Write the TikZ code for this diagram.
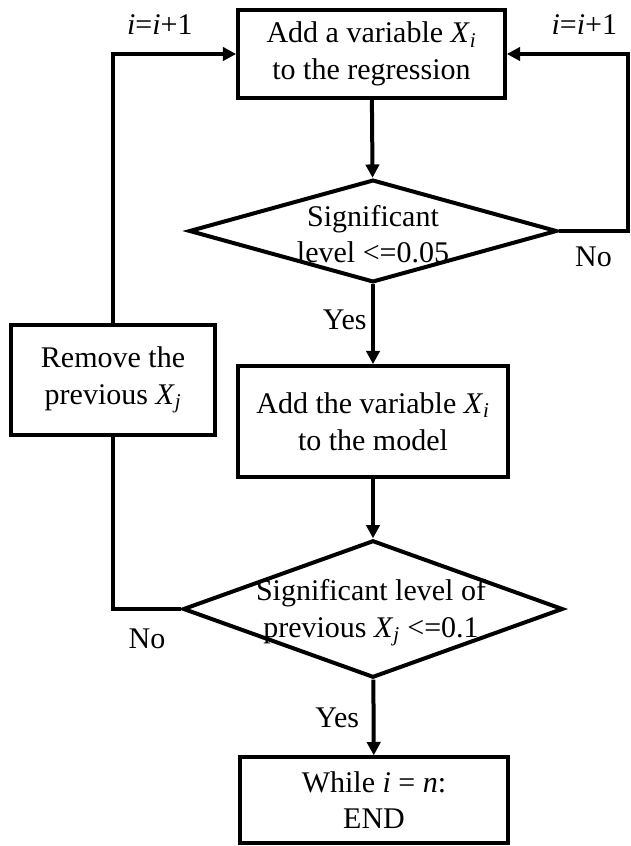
\documentclass[tikz,border=0pt]{standalone}
\usepackage{fontspec}
\setmainfont{Liberation Serif}
\usepackage{tikz}
\usetikzlibrary{positioning,arrows.meta,shapes.geometric}
\newcommand{\subvar}[2]{\textit{#1}\textsubscript{\textit{#2}}}

\begin{document}
\begin{tikzpicture}[x=0.75pt, y=-0.75pt,
    every node/.style={font=\fontsize{22.5}{27.5}\selectfont},
    box/.style={draw, line width=3pt, align=center, inner sep=0pt},
    decision/.style={draw, diamond, line width=3pt, inner sep=0pt},
    txt/.style={align=center, inner sep=0pt},
    flow/.style={line width=3pt, -{Triangle[length=10pt,width=10pt]}},
    link/.style={line width=3pt}]
  \useasboundingbox (0,0) rectangle (631,846);
  % main column
  \node[box, minimum width=200pt, minimum height=66pt] (add) at (371.5,54) {Add a variable \subvar{X}{i}\\to the regression};
  \node[decision, minimum width=276pt, minimum height=77pt] (sig1) at (373,231) {};
  \node[txt] (sig1txt) at (373,234) {Significant\\level <=0.05};
  \node[box, minimum width=202pt, minimum height=83pt] (addmod) at (373,421.5) {Add the variable \subvar{X}{i}\\to the model};
  \node[decision, minimum width=285pt, minimum height=103pt] (sig2) at (373,609) {};
  \node[txt] (sig2txt) at (371,613) {Significant level of\\previous \subvar{X}{j} <=0.1};
  \node[box, minimum width=201pt, minimum height=64pt] (stop) at (374,800) {While \textit{i} = \textit{n}:\\END};
  % side box
  \node[box, minimum width=153pt, minimum height=82pt] (remove) at (113,380) {Remove the\\previous \subvar{X}{j}};
  \coordinate (rturn) at (628,231);

  \draw[flow] (add) -- (sig1);
  \draw[flow] (sig1) -- node[left, pos=0.45]{Yes} (addmod);
  \draw[flow] (addmod) -- (sig2);
  \draw[flow] (sig2) -- node[left, xshift=-6pt]{Yes} (stop);
  \draw[flow] (sig1.east) -- node[below=7pt]{No} (rturn) |- node[above=10pt, pos=0.68]{\textit{i}=\textit{i}+1} (add.east);
  \draw[link] (sig2.west) -| node[below=10pt, pos=0.25]{No} (remove.south);
  \draw[flow] (remove.north) |- node[above=10pt, pos=0.69]{\textit{i}=\textit{i}+1} (add.west);
\end{tikzpicture}
\end{document}
